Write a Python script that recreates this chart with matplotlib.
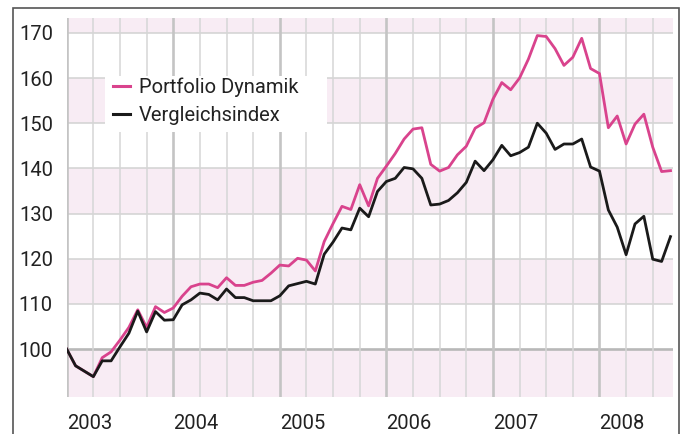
import numpy as np
import matplotlib.pyplot as plt
from matplotlib.patches import Rectangle

plt.rcParams['font.family'] = ['Roboto', 'DejaVu Sans']

# monthly index values, Jan 2003 .. Sep 2008
portfolio = [100.0, 96.3, 95.1, 93.9, 98.1, 99.4, 102.0, 104.8, 108.7, 104.8,
             109.4, 108.1, 109.1, 111.7, 113.8, 114.4, 114.4, 113.6, 115.8, 114.1,
             114.1, 114.8, 115.2, 116.8, 118.6, 118.4, 120.1, 119.7, 117.3, 123.8,
             127.8, 131.6, 130.9, 136.4, 131.7, 137.8, 140.5, 143.3, 146.5, 148.7,
             149.0, 140.9, 139.4, 140.2, 143.0, 144.9, 148.9, 150.1, 155.3, 159.0,
             157.4, 160.0, 164.2, 169.4, 169.2, 166.5, 162.8, 164.6, 168.8, 162.1,
             161.0, 149.0, 151.6, 145.4, 149.8, 152.0, 144.7, 139.3, 139.5]
vergleich = [100.0, 96.3, 95.1, 93.9, 97.4, 97.4, 100.5, 103.5, 108.4, 103.8,
             108.3, 106.4, 106.5, 109.8, 110.9, 112.4, 112.1, 110.9, 113.3, 111.4,
             111.4, 110.7, 110.7, 110.7, 111.8, 114.0, 114.5, 115.0, 114.4, 121.0,
             123.7, 126.8, 126.4, 131.2, 129.3, 134.9, 137.1, 137.8, 140.2, 139.9,
             137.8, 131.9, 132.1, 132.9, 134.6, 136.9, 141.6, 139.5, 141.9, 145.1,
             142.8, 143.5, 144.7, 150.0, 147.8, 144.2, 145.4, 145.4, 146.5, 140.3,
             139.4, 130.8, 127.0, 120.9, 127.7, 129.4, 119.9, 119.4, 124.9]
years = [2003, 2004, 2005, 2006, 2007, 2008]
yticks = [100, 110, 120, 130, 140, 150, 160, 170]
labels = ['Portfolio Dynamik', 'Vergleichsindex']

t = 2003 + np.arange(len(portfolio)) / 12

pink = '#d9438d'
band = '#f8ecf4'

fig = plt.figure(figsize=(6.87, 4.34), dpi=100)
ax = fig.add_axes([0.0971, 0.0853, 0.8825, 0.8733])
ymin, ymax = 89.4, 173.3
ax.set_xlim(2003, 2008.69)
ax.set_ylim(ymin, ymax)

# alternating pink bands
for lo, hi in [(ymin, 100), (110, 120), (130, 140), (150, 160), (170, ymax)]:
    ax.axhspan(lo, hi, color=band, lw=0, zorder=0)

for y in yticks:
    if y == 100:
        ax.axhline(y, color='#b8b8b8', lw=1.9, zorder=1)
    else:
        ax.axhline(y, color='#d2d2d2', lw=1.1, zorder=1)

for q in np.arange(2003, 2008.6, 0.25):
    if q % 1 == 0:
        ax.axvline(q, color='#c4c4c4', lw=1.9, zorder=1)
    else:
        ax.axvline(q, color='#d6d6d6', lw=1.1, zorder=1)

ax.plot(t, portfolio, color=pink, lw=2.0, zorder=3, label=labels[0])
ax.plot(t, vergleich, color='#1a1a1a', lw=2.0, zorder=4, label=labels[1])

# white box behind the legend
ax.add_patch(Rectangle((0.0632, 0.699), 0.3661, 0.148, transform=ax.transAxes,
                       facecolor='white', edgecolor='none', zorder=2))
leg = ax.legend(loc='upper left', bbox_to_anchor=(0.049, 0.885), frameon=False,
                fontsize=14.5, handlelength=0.85, handletextpad=0.45,
                labelspacing=0.42, borderpad=0.3)
for h in leg.get_lines():
    h.set_linewidth(2.2)
for txt in leg.get_texts():
    txt.set_color('#222222')

for s in ax.spines.values():
    s.set_visible(False)

ax.set_yticks(yticks)
ax.set_xticks(years)
ax.set_xticklabels([str(y) for y in years], ha='left')
ax.tick_params(axis='both', length=0, labelsize=14.5, colors='#222222')
ax.tick_params(axis='y', pad=10)
ax.tick_params(axis='x', pad=12)

# outer frame
fig.add_artist(Rectangle((0.0189, -0.02), 0.9695, 1.0016, transform=fig.transFigure,
                         facecolor='none', edgecolor='#555555', lw=1.2))

fig.savefig('out.png', dpi=100)
